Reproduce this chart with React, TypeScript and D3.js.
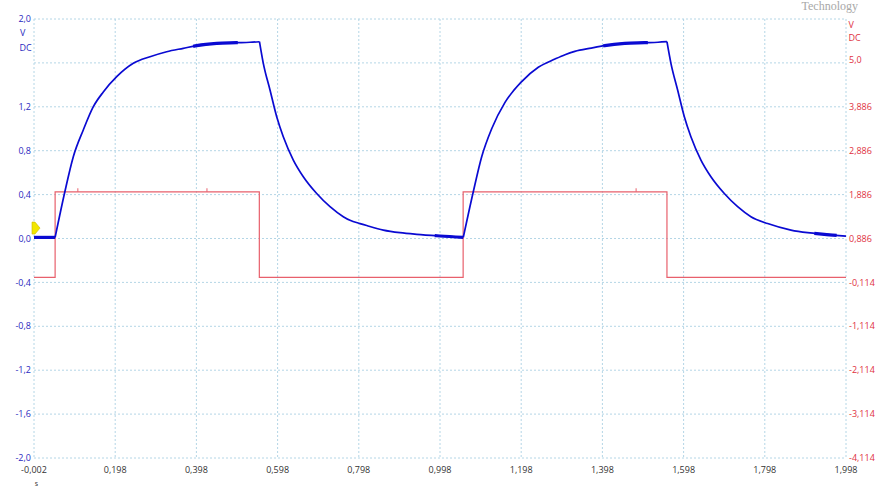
import React from 'react';
import * as d3 from 'd3';

// ---- axis ticks ----
const timeTicks = [-0.002, 0.198, 0.398, 0.598, 0.798, 0.998, 1.198, 1.398, 1.598, 1.798, 1.998];
const timeTickLabels = ['-0,002', '0,198', '0,398', '0,598', '0,798', '0,998', '1,198', '1,398', '1,598', '1,798', '1,998'];
const leftGrid = [2.0, 1.6, 1.2, 0.8, 0.4, 0.0, -0.4, -0.8, -1.2, -1.6, -2.0];
const leftTicks = [2.0, 1.2, 0.8, 0.4, 0.0, -0.4, -0.8, -1.2, -1.6, -2.0];
const leftTickLabels = ['2,0', '1,2', '0,8', '0,4', '0,0', '-0,4', '-0,8', '-1,2', '-1,6', '-2,0'];
const rightTicks = [5.0, 3.886, 2.886, 1.886, 0.886, -0.114, -1.114, -2.114, -3.114, -4.114];
const rightTickLabels = ['5,0', '3,886', '2,886', '1,886', '0,886', '-0,114', '-1,114', '-2,114', '-3,114', '-4,114'];

// ---- blue channel (left axis, V) ----
const blueTime = [
  -0.002, 0.05, 0.074, 0.0948, 0.1194, 0.1441, 0.1687, 0.2017, 0.2426, 0.2837, 0.3248, 0.3657, 0.3987, 0.448, 0.4973, 0.53, 0.5534,
  0.5628, 0.5793, 0.5958, 0.612, 0.6367, 0.6613, 0.6943, 0.7271, 0.7598, 0.7763, 0.801, 0.8175, 0.8584, 0.8995, 0.9406, 0.998, 1.0554,
  1.08, 1.1007, 1.1253, 1.1581, 1.1992, 1.2401, 1.2812, 1.3059, 1.33, 1.3707, 1.4037, 1.453, 1.502, 1.535, 1.557,
  1.5668, 1.5833, 1.5998, 1.616, 1.6407, 1.6653, 1.6983, 1.7311, 1.7638, 1.805, 1.8624, 1.9035, 1.9446, 1.998,
];
const blueVolt = [
  0.01, 0.01, 0.426, 0.745, 0.989, 1.201, 1.335, 1.474, 1.596, 1.656, 1.702, 1.733, 1.757, 1.778, 1.784, 1.788, 1.793,
  1.596, 1.353, 1.109, 0.927, 0.715, 0.563, 0.41, 0.29, 0.199, 0.166, 0.136, 0.118, 0.077, 0.053, 0.038, 0.023, 0.011,
  0.426, 0.745, 1.0, 1.24, 1.43, 1.56, 1.635, 1.675, 1.705, 1.735, 1.757, 1.778, 1.784, 1.788, 1.793,
  1.596, 1.353, 1.109, 0.927, 0.715, 0.563, 0.41, 0.29, 0.199, 0.136, 0.077, 0.053, 0.038, 0.022,
];
// indices where the trace changes direction (corners)
const blueCorners = [0, 1, 16, 33, 48, 62];
// stretches where the trace is drawn bold (quantisation noise)
const boldStart = [-0.002, 0.39, 0.985, 1.4, 1.92];
const boldEnd = [0.05, 0.5, 1.055, 1.51, 1.975];

// ---- red channel (right axis, V) ----
const redTime = [-0.002, 0.05, 0.553, 1.055, 1.557, 1.998];
const redVolt = [0.0, 1.95, 0.0, 1.95, 0.0, 0.0];
const redGlitchTime = [0.106, 0.424, 1.481];
const redGlitchVolt = [2.03, 2.03, 2.03];

const W = 880;
const H = 502;
const X0 = 34;
const X1 = 846;
const Y0 = 19;
const Y1 = 458;

const BLUE = '#0a0ad2';
const BLUE_TXT = '#2a2ac0';
const RED = '#e8606c';
const RED_TXT = '#e0303e';
const GRID = '#b4d6e6';
const FONT = "'Open Sans', 'DejaVu Sans', sans-serif";

export default function App() {
  const x = d3.scaleLinear().domain([-0.002, 1.998]).range([X0, X1]);
  const yL = d3.scaleLinear().domain([-2, 2]).range([Y1, Y0]);
  const yR = d3.scaleLinear().domain([-4.114, 5.886]).range([Y1, Y0]);

  const bluePts: [number, number][] = blueTime.map((t, i) => [t, blueVolt[i]]);
  const blueLine = d3
    .line<[number, number]>()
    .x((d) => x(d[0]))
    .y((d) => yL(d[1]))
    .curve(d3.curveMonotoneX);

  const segPaths: string[] = [];
  for (let k = 0; k < blueCorners.length - 1; k++) {
    segPaths.push(blueLine(bluePts.slice(blueCorners[k], blueCorners[k + 1] + 1)) || '');
  }

  const boldPaths = boldStart.map((s, k) => {
    const e = boldEnd[k];
    const inside = bluePts.filter((p) => p[0] > s && p[0] < e);
    const interp = (t: number) => {
      let j = 0;
      while (j < bluePts.length - 2 && bluePts[j + 1][0] < t) j++;
      const a = bluePts[j];
      const b = bluePts[j + 1];
      const f = (t - a[0]) / (b[0] - a[0]);
      return a[1] + f * (b[1] - a[1]);
    };
    const pts: [number, number][] = [[s, interp(s)], ...inside, [e, interp(e)]];
    return blueLine(pts) || '';
  });

  const redPts: [number, number][] = redTime.map((t, i) => [t, redVolt[i]]);
  const redPath =
    d3
      .line<[number, number]>()
      .x((d) => x(d[0]))
      .y((d) => yR(d[1]))
      .curve(d3.curveStepAfter)(redPts) || '';

  const baseRed = yR(1.95);
  const my = yL(0.095);

  return (
    <svg
      width={W}
      height={H}
      style={{ position: 'absolute', left: 0, top: 0, background: '#fff' }}
      fontFamily={FONT}
    >
      <rect x={0} y={0} width={W} height={H} fill="#fff" />
      <text x={858} y={9.5} textAnchor="end" fontFamily="'Liberation Serif', serif" fontSize={12} fill="#a8a8a8">
        Technology
      </text>

      {/* grid */}
      {timeTicks.map((t, i) => (
        <line key={'gx' + i} x1={x(t)} x2={x(t)} y1={Y0} y2={Y1} stroke={GRID} strokeWidth={1} strokeDasharray="2,2" />
      ))}
      {leftGrid.map((v, i) => (
        <line key={'gy' + i} x1={X0} x2={X1} y1={yL(v)} y2={yL(v)} stroke={GRID} strokeWidth={1} strokeDasharray="2,2" />
      ))}

      {/* red trace */}
      <path d={redPath} fill="none" stroke={RED} strokeWidth={1.2} />
      {redGlitchTime.map((t, i) => (
        <line key={'rg' + i} x1={x(t)} x2={x(t)} y1={baseRed} y2={yR(redGlitchVolt[i])} stroke={RED} strokeWidth={1} />
      ))}

      {/* blue trace */}
      {segPaths.map((d, i) => (
        <path key={'bs' + i} d={d} fill="none" stroke={BLUE} strokeWidth={1.7} strokeLinejoin="round" />
      ))}
      {boldPaths.map((d, i) => (
        <path key={'bb' + i} d={d} fill="none" stroke={BLUE} strokeWidth={3.2} />
      ))}

      {/* trigger marker */}
      <polygon
        points={`${X0 - 2},${my - 6} ${X0 + 1},${my - 6} ${X0 + 6},${my} ${X0 + 1},${my + 6} ${X0 - 2},${my + 6}`}
        fill="#f2e600"
        stroke="#c8b800"
        strokeWidth={0.6}
      />

      {/* left axis labels */}
      {leftTicks.map((v, i) => (
        <text key={'ly' + i} x={31} y={yL(v)} dy="0.35em" textAnchor="end" fontSize={9} fill={BLUE_TXT}>
          {leftTickLabels[i]}
        </text>
      ))}
      <text x={20} y={33} dy="0.35em" fontSize={9} fill={BLUE_TXT}>V</text>
      <text x={19.5} y={48} dy="0.35em" fontSize={9} fill={BLUE_TXT}>DC</text>

      {/* right axis labels */}
      {rightTicks.map((v, i) => (
        <text key={'ry' + i} x={849} y={yR(v) + (i === 0 ? 1.5 : 0)} dy="0.35em" fontSize={9} fill={RED_TXT}>
          {rightTickLabels[i]}
        </text>
      ))}
      <text x={848.5} y={24.5} dy="0.35em" fontSize={9} fill={RED_TXT}>V</text>
      <text x={848.5} y={38} dy="0.35em" fontSize={9} fill={RED_TXT}>DC</text>

      {/* x axis labels */}
      {timeTicks.map((t, i) => (
        <text key={'tx' + i} x={x(t)} y={469.5} dy="0.35em" textAnchor="middle" fontSize={9} fill="#333">
          {timeTickLabels[i]}
        </text>
      ))}
      <text x={36.5} y={483.5} dy="0.35em" textAnchor="middle" fontSize={7} fill="#333">s</text>
    </svg>
  );
}
